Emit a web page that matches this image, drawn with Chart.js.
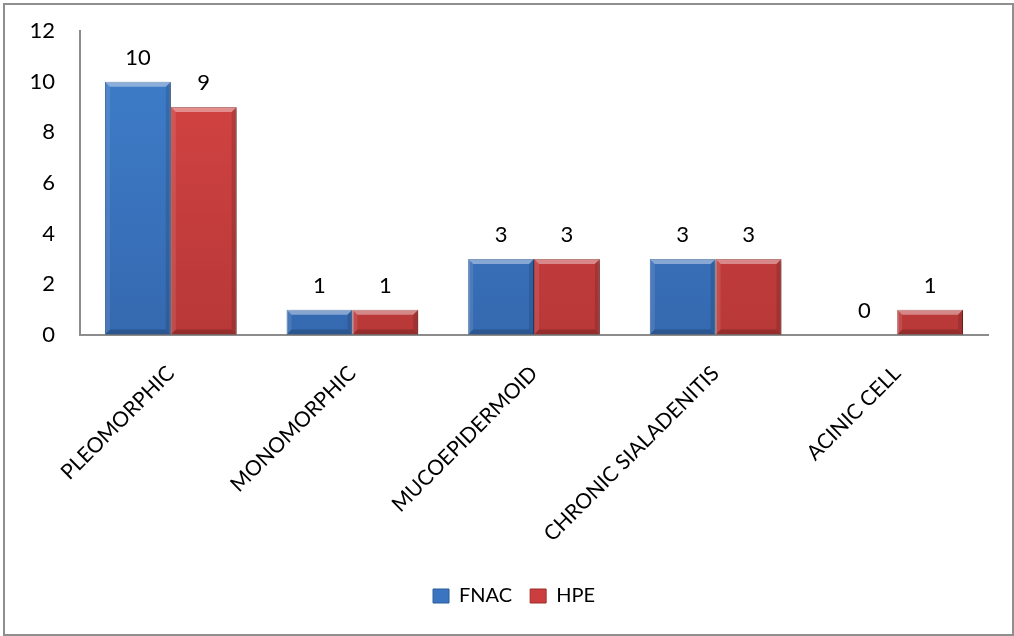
<!DOCTYPE html>
<html>
<head>
<meta charset="utf-8">
<script src="https://cdn.jsdelivr.net/npm/chart.js@4/dist/chart.umd.min.js"></script>
<style>
  html, body { margin: 0; padding: 0; background: #fff; }
  #wrap { position: relative; width: 1014px; height: 636px; }
  #frame { position: absolute; left: 3px; top: 3px; width: 1011px; height: 633px;
           box-sizing: border-box; border: 2px solid #8f8f8f; pointer-events: none; }
  canvas { position: absolute; left: 0; top: 0; }
</style>
</head>
<body>
<div id="wrap">
  <canvas id="chart" width="1014" height="636"></canvas>
  <div id="frame"></div>
</div>
<script>
// Salivary gland lesions: cytology (FNAC) vs histopathology (HPE)
const categories = ['PLEOMORPHIC', 'MONOMORPHIC', 'MUCOEPIDERMOID', 'CHRONIC SIALADENITIS', 'ACINIC CELL'];
const fnacValues = [10, 1, 3, 3, 0];
const hpeValues  = [9, 1, 3, 3, 1];
const yTicks = [0, 2, 4, 6, 8, 10, 12];

const FONT = 'Lato, "Open Sans", sans-serif';

// Vertical shading for the bar faces
function faceGradient(ctx, chart, top, bottom) {
  const area = chart.chartArea;
  if (!area) return top;
  const g = ctx.createLinearGradient(0, area.top, 0, area.bottom);
  g.addColorStop(0, top);
  g.addColorStop(1, bottom);
  return g;
}

// Thin bevel on every bar plus a soft drop shadow
const bevelPlugin = {
  id: 'bevel',
  beforeDatasetsDraw(chart) {
    const ctx = chart.ctx;
    ctx.save();
    ctx.shadowColor = 'rgba(0,0,0,0.3)';
    ctx.shadowBlur = 4;
    ctx.shadowOffsetX = 3;
    ctx.shadowOffsetY = 1;
  },
  afterDatasetsDraw(chart) {
    const ctx = chart.ctx;
    ctx.restore();
    chart.data.datasets.forEach((ds, di) => {
      const meta = chart.getDatasetMeta(di);
      meta.data.forEach(bar => {
        const p = bar.getProps(['x', 'y', 'base', 'width'], true);
        const l = p.x - p.width / 2, r = p.x + p.width / 2;
        const t = Math.min(p.y, p.base), b = Math.max(p.y, p.base);
        const h = b - t;
        if (h < 1) return;
        const e = Math.min(5, h / 2, p.width / 2);
        const face = (pts, color) => {
          ctx.beginPath();
          ctx.moveTo(pts[0][0], pts[0][1]);
          for (let i = 1; i < pts.length; i++) ctx.lineTo(pts[i][0], pts[i][1]);
          ctx.closePath();
          ctx.fillStyle = color;
          ctx.fill();
        };
        ctx.save();
        face([[l, t], [r, t], [r - e, t + e], [l + e, t + e]], 'rgba(255,255,255,0.40)');
        face([[l, t], [l + e, t + e], [l + e, b - e], [l, b]], 'rgba(255,255,255,0.10)');
        face([[r, t], [r, b], [r - e, b - e], [r - e, t + e]], 'rgba(0,0,0,0.12)');
        face([[l, b], [l + e, b - e], [r - e, b - e], [r, b]], 'rgba(0,0,0,0.18)');
        ctx.restore();
      });
    });
  }
};

// Value labels above each bar
const valueLabels = {
  id: 'valueLabels',
  afterDatasetsDraw(chart) {
    const ctx = chart.ctx;
    ctx.save();
    ctx.font = '22px ' + FONT;
    ctx.fillStyle = '#000';
    ctx.textAlign = 'center';
    ctx.textBaseline = 'middle';
    chart.data.datasets.forEach((ds, di) => {
      const meta = chart.getDatasetMeta(di);
      meta.data.forEach((bar, i) => {
        const p = bar.getProps(['x', 'y'], true);
        ctx.fillText(String(ds.data[i]), p.x, p.y - 24);
      });
    });
    ctx.restore();
  }
};

new Chart(document.getElementById('chart'), {
  type: 'bar',
  data: {
    labels: categories,
    datasets: [
      { label: 'FNAC', data: fnacValues,
        backgroundColor: c => faceGradient(c.chart.ctx, c.chart, '#3f7fcc', '#3569b0'),
        borderColor: '#2d5c9a', borderWidth: 1 },
      { label: 'HPE', data: hpeValues,
        backgroundColor: c => faceGradient(c.chart.ctx, c.chart, '#d84545', '#b83838'),
        borderColor: '#9e2e2e', borderWidth: 1 }
    ]
  },
  options: {
    responsive: false,
    animation: false,
    events: [],
    layout: { padding: { top: 31, right: 0, left: 14, bottom: 20 } },
    datasets: { bar: { categoryPercentage: 0.725, barPercentage: 1.0 } },
    scales: {
      x: {
        grid: { display: false, drawTicks: false },
        border: { display: true, color: '#8c8c8c', width: 2 },
        ticks: { font: { family: FONT, size: 21 }, color: '#000', minRotation: 45, maxRotation: 45, padding: 26 },
        afterFit(scale) { scale.height = 233; }
      },
      y: {
        min: 0, max: 12,
        afterBuildTicks(scale) { scale.ticks = yTicks.map(v => ({ value: v })); },
        // invisible tick marks keep the labels clear of the axis line
        grid: { display: true, drawOnChartArea: false, drawTicks: true, tickLength: 23, color: 'rgba(0,0,0,0)' },
        border: { display: true, color: '#8c8c8c', width: 2 },
        ticks: { font: { family: FONT, size: 22 }, color: '#000', padding: 2 },
        afterFit(scale) { scale.width = 66; }
      },
      // empty strip on the right edge of the plot
      yRight: {
        position: 'right',
        display: true,
        grid: { display: false, drawTicks: false },
        border: { display: false },
        ticks: { display: false },
        afterFit(scale) { scale.width = 26; }
      }
    },
    plugins: {
      tooltip: { enabled: false },
      legend: {
        position: 'bottom',
        labels: { font: { family: FONT, size: 20 }, color: '#000', boxWidth: 16, boxHeight: 14, padding: 18,
          generateLabels(chart) {
            const fills = ['#3b74c0', '#cc3d3d'];
            const edges = ['#2d5c9a', '#9e2e2e'];
            return chart.data.datasets.map((ds, i) => ({
              text: ds.label, fillStyle: fills[i], strokeStyle: edges[i], lineWidth: 1,
              fontColor: '#000', datasetIndex: i, hidden: false
            }));
          }
        }
      }
    }
  },
  plugins: [bevelPlugin, valueLabels]
});
</script>
</body>
</html>
